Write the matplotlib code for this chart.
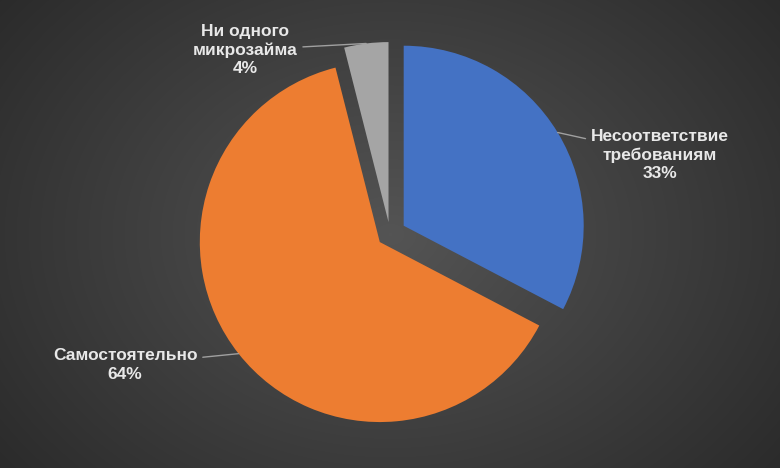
import numpy as np
import matplotlib
matplotlib.use("Agg")
import matplotlib.pyplot as plt

labels = ["Несоответствие\nтребованиям", "Самостоятельно", "Ни одного\nмикрозайма"]
values = [33, 64, 4]
pcts = ["33%", "64%", "4%"]
colors = ["#4472C4", "#ED7D31", "#A5A5A5"]
explode = [16, 13, 12]
text_pos = [(660, 313), (125, 103), (245, 418)]

fig = plt.figure(figsize=(7.8, 4.68), dpi=100)
bg = fig.add_axes([0, 0, 1, 1])
yy, xx = np.mgrid[0:468, 0:780]
d = np.sqrt(((xx - 390) / 520) ** 2 + ((yy - 234) / 400) ** 2)
g = np.clip(0.33 - 0.17 * d, 0.13, 0.33)
bg.imshow(np.dstack([g, g, g]), extent=[0, 780, 0, 468], aspect="auto")
bg.axis("off")

ax = fig.add_axes([0, 0, 1, 1], facecolor="none")
cx, cy, R = 390, 234, 180
wedges, _ = ax.pie(values, colors=colors, explode=explode, startangle=90,
                   counterclock=False, radius=R, center=(cx, cy),
                   wedgeprops=dict(linewidth=0))
ax.set_xlim(0, 780)
ax.set_ylim(0, 468)
ax.set_aspect("equal")
ax.axis("off")

for w, lab, p, (tx, ty) in zip(wedges, labels, pcts, text_pos):
    ang = np.deg2rad((w.theta1 + w.theta2) / 2)
    wx, wy = w.center
    px = wx + w.r * np.cos(ang)
    py = wy + w.r * np.sin(ang)
    ax.annotate(lab + "\n" + p, xy=(px, py), xytext=(tx, ty),
                ha="center", va="center", color="#E8E8E8", fontsize=12.5,
                fontweight="bold", family="Liberation Sans", linespacing=1.3,
                arrowprops=dict(arrowstyle="-", color="#A0A0A0", lw=1,
                                shrinkA=2, shrinkB=0, relpos=(0.5, 0.5)))

fig.savefig("out.png", dpi=100)
